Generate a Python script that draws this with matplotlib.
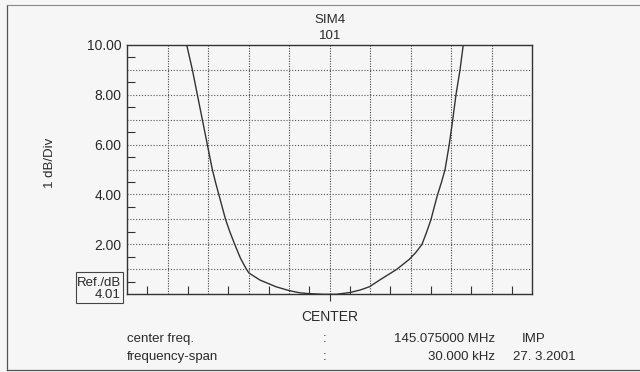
import matplotlib
matplotlib.use("Agg")
import matplotlib.pyplot as plt
from matplotlib.lines import Line2D
from matplotlib.patches import Rectangle

plt.rcParams['font.family'] = ['Liberation Sans', 'DejaVu Sans']

# ---- data (frequency offset in kHz from centre, level in dB) ----
freq_khz = [-10.58, -10.16, -9.79, -9.42, -9.05, -8.68, -8.45, -8.2, -7.95, -7.7,
            -7.38, -7.02, -6.6, -6.15, -5.96, -5.15, -3.95, -3.0, -2.2, -1.6, -0.5,
            0.5, 1.5, 2.26, 2.95, 3.74, 4.98, 5.91, 6.4, 6.85, 7.2, 7.52, 7.76, 8.01,
            8.3, 8.56, 8.87, 9.13, 9.37, 9.67, 9.91]
level_db = [10.0, 9.0, 8.0, 7.0, 6.0, 5.0, 4.5, 4.0, 3.5, 3.0,
            2.5, 2.0, 1.45, 1.0, 0.85, 0.57, 0.3, 0.15, 0.06, 0.03, 0.0,
            0.0, 0.07, 0.17, 0.3, 0.58, 1.0, 1.4, 1.68, 2.0, 2.5, 3.0, 3.5, 4.0,
            4.5, 5.0, 6.0, 7.0, 8.0, 9.0, 10.0]
ytick_vals = [2, 4, 6, 8, 10]
ytick_labels = ["2.00", "4.00", "6.00", "8.00", "10.00"]
span_khz = 30.0
n_div_x = 10
n_div_y = 10

W, H = 640, 372
fig = plt.figure(figsize=(W / 100, H / 100), dpi=100)
bg = '#f6f6f6'
fig.patch.set_facecolor(bg)
ink = '#2a2a2a'

ax = fig.add_axes([127 / W, 1 - 294.3 / H, (532 - 127) / W, (294.3 - 44.7) / H])
ax.set_facecolor(bg)
ax.set_xlim(-span_khz / 2, span_khz / 2)
ax.set_ylim(0, 10)

# grid
step_x = span_khz / n_div_x
for i in range(1, n_div_x):
    ax.axvline(-span_khz / 2 + i * step_x, color='#444444', lw=0.8,
               ls=(0, (1, 1.3)), zorder=1)
for j in range(1, n_div_y):
    ax.axhline(j, color='#555555', lw=0.8, ls=(0, (1, 1.6)), zorder=1)

ax.plot(freq_khz, level_db, color='#333333', lw=1.0, zorder=3, clip_on=True)

for s in ax.spines.values():
    s.set_color('#333333')
    s.set_linewidth(1.0)

# ticks
ax.set_yticks(ytick_vals)
ax.set_yticklabels(ytick_labels, fontsize=10, color=ink)
ax.set_yticks([j + 0.5 for j in range(10)], minor=True)
ax.tick_params(axis='y', which='major', length=0, pad=4)
ax.tick_params(axis='y', which='minor', direction='in', length=6,
               color='#333333', width=0.8)
ax.set_xticks([0])
ax.set_xticklabels(["CENTER"], fontsize=10, color=ink)
ax.set_xticks([-span_khz / 2 + (i + 0.5) * step_x for i in range(n_div_x)], minor=True)
ax.tick_params(axis='x', which='major', direction='out', length=5,
               color='#333333', width=0.8, pad=6)
ax.tick_params(axis='x', which='minor', direction='in', length=6,
               color='#333333', width=0.8)

# title
fig.text(330 / W, 1 - 20 / H, "SIM4", ha='center', va='center', fontsize=9.5, color=ink)
fig.text(330 / W, 1 - 36 / H, "101", ha='center', va='center', fontsize=9.5, color=ink)

# y label
fig.text(50 / W, 1 - 163 / H, "1 dB/Div", rotation=90, ha='center', va='center',
         fontsize=9.5, color=ink)

# Ref box
fig.patches.append(Rectangle((76 / W, 1 - 302.7 / H), 47 / W, 31 / H,
                             transform=fig.transFigure, fill=False,
                             edgecolor='#444444', lw=0.8))
fig.text(121 / W, 1 - 283 / H, "Ref./dB", ha='right', va='center', fontsize=9.5, color=ink)
fig.text(121 / W, 1 - 295.5 / H, "4.01", ha='right', va='center', fontsize=9.5, color=ink)

# footer
fig.text(127 / W, 1 - 339 / H, "center freq.", ha='left', va='center', fontsize=9.5, color=ink)
fig.text(127 / W, 1 - 357 / H, "frequency-span", ha='left', va='center', fontsize=9.5, color=ink)
fig.text(325 / W, 1 - 339 / H, ":", ha='center', va='center', fontsize=9.5, color=ink)
fig.text(325 / W, 1 - 357 / H, ":", ha='center', va='center', fontsize=9.5, color=ink)
fig.text(495 / W, 1 - 339 / H, "145.075000 MHz", ha='right', va='center', fontsize=9.5, color=ink)
fig.text(495 / W, 1 - 357 / H, "30.000 kHz", ha='right', va='center', fontsize=9.5, color=ink)
fig.text(534 / W, 1 - 339 / H, "IMP", ha='center', va='center', fontsize=9.5, color=ink)
fig.text(513 / W, 1 - 357 / H, "27. 3.2001", ha='left', va='center', fontsize=9.5, color=ink)

# outer frame (left, top, bottom)
frame_c = '#555555'
fig.add_artist(Line2D([7 / W, 7 / W], [1 - 370 / H, 1 - 5 / H], transform=fig.transFigure,
                      color=frame_c, lw=0.9))
fig.add_artist(Line2D([7 / W, 1.0], [1 - 5 / H, 1 - 5 / H], transform=fig.transFigure,
                      color='#888888', lw=0.8))
fig.add_artist(Line2D([7 / W, 1.0], [1 - 370 / H, 1 - 370 / H], transform=fig.transFigure,
                      color=frame_c, lw=0.9))

fig.savefig("out.png", dpi=100, facecolor=bg)
